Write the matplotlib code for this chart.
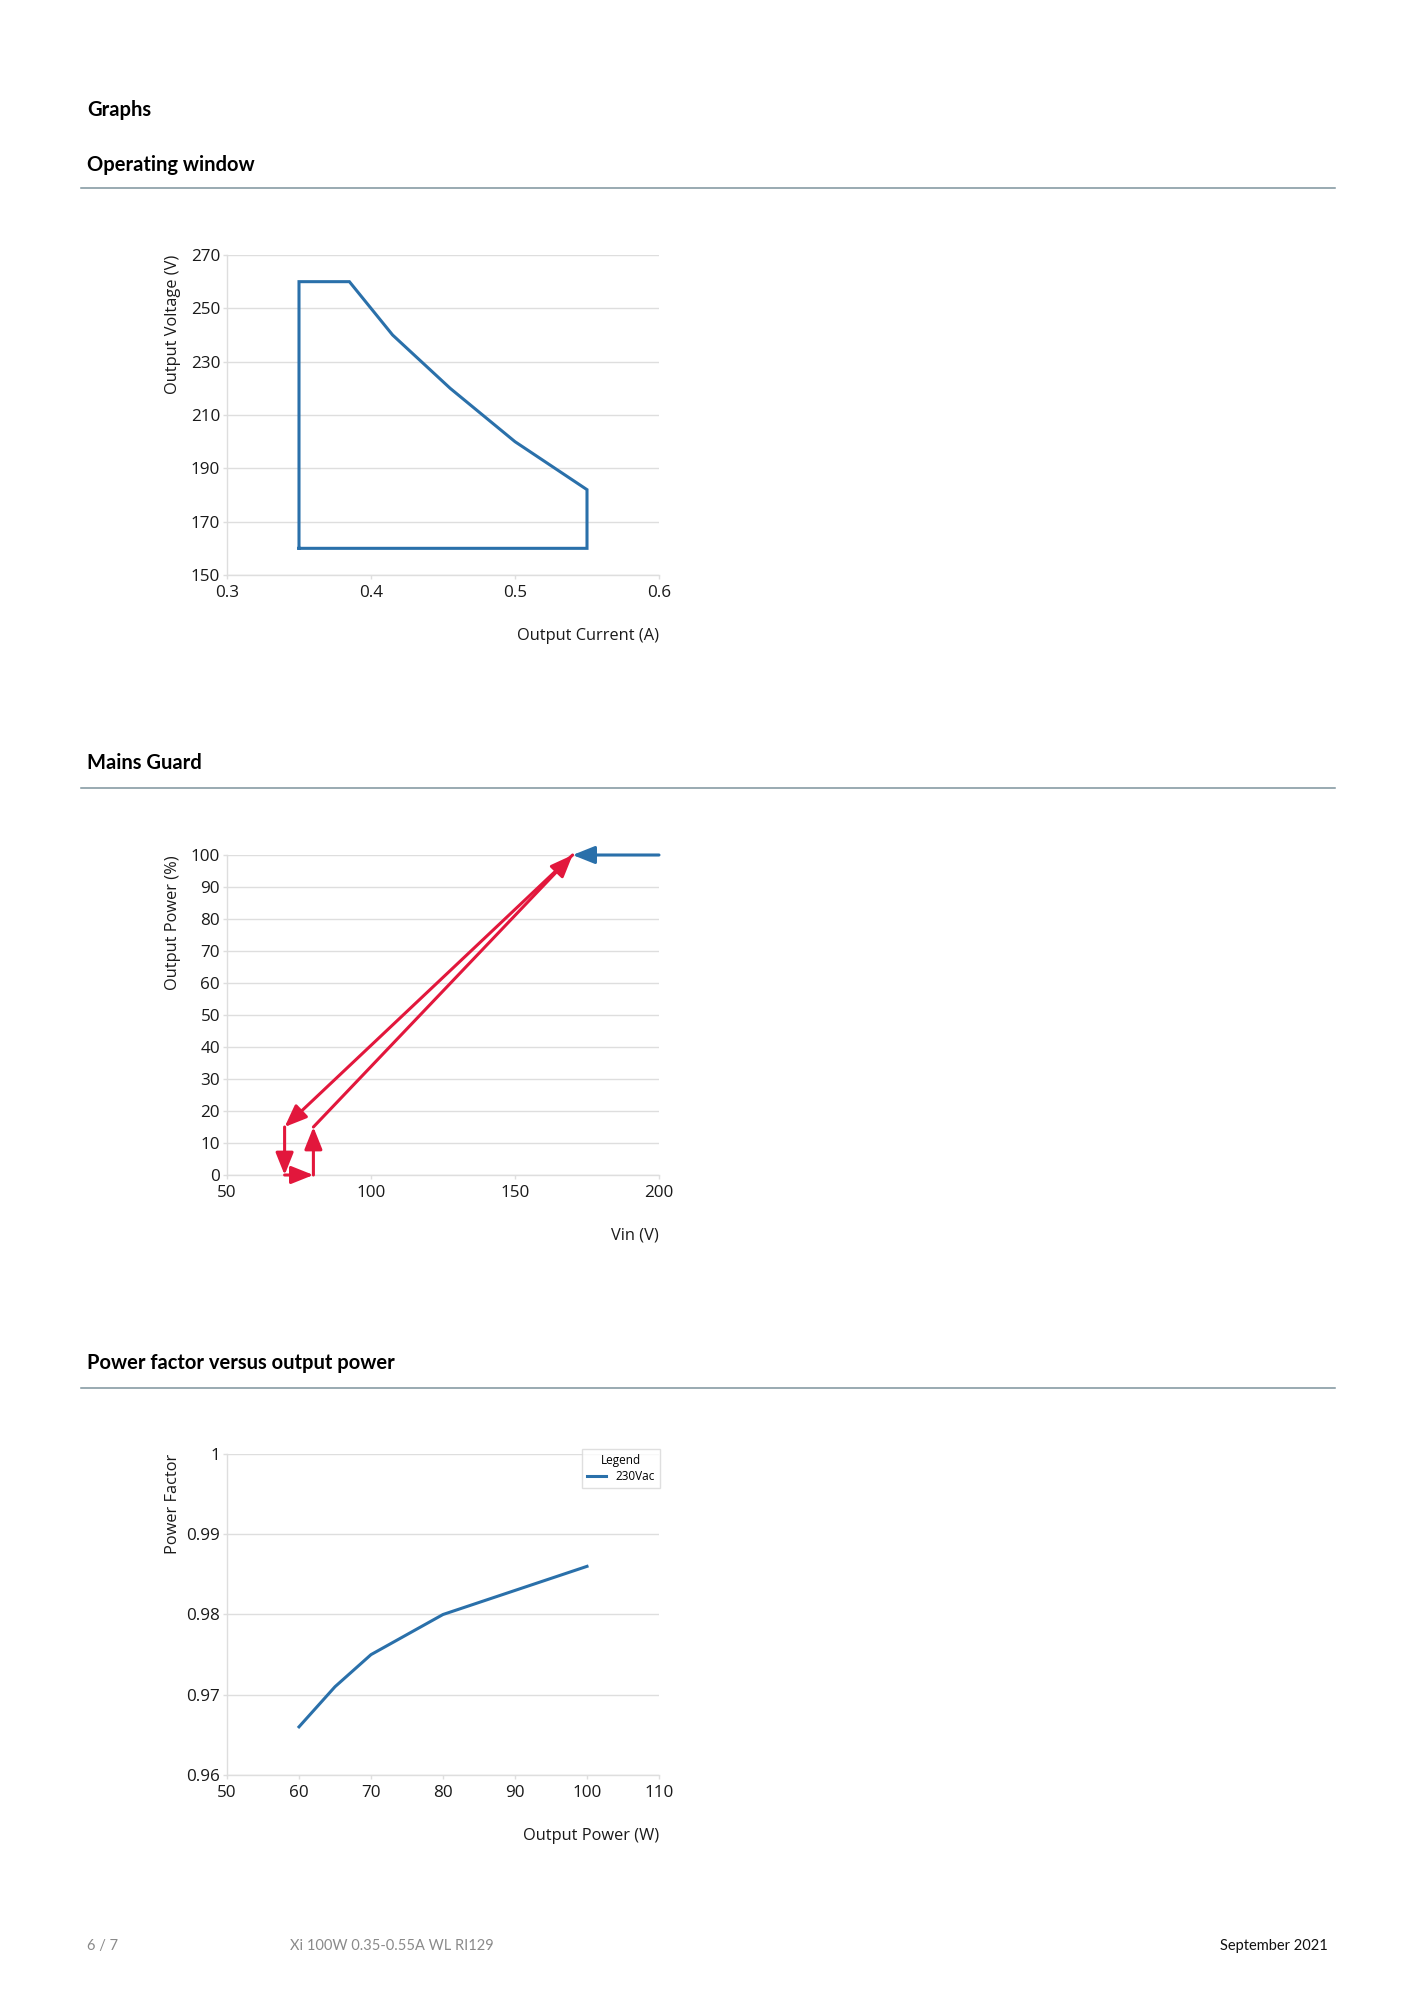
import matplotlib
matplotlib.use("Agg")
from matplotlib import pyplot as plt

plt.rcParams['font.family'] = ['Open Sans', 'DejaVu Sans']

# Operating window
ow_current = [0.35, 0.35, 0.385, 0.415, 0.455, 0.50, 0.55, 0.55, 0.35]
ow_voltage = [160, 260, 260, 240, 220, 200, 182, 160, 160]

# Mains guard
mg_blue_vin = [200, 170]
mg_blue_pct = [100, 100]
mg_red_vin = [170, 70, 70, 80, 80, 170]
mg_red_pct = [100, 15, 0, 0, 15, 100]

# Power factor
pf_power = [60, 65, 70, 80, 90, 100]
pf_value = [0.966, 0.971, 0.975, 0.980, 0.983, 0.986]

BLUE = '#2a70aa'
RED = '#e2173c'
GRID = '#dedede'

W, H = 1414, 2000
fig = plt.figure(figsize=(W / 100, H / 100), dpi=100)


def fx(px):
    return px / W


def fy(py):
    return 1 - py / H


def heading(text, y, line_y=None):
    fig.text(fx(87), fy(y), text, fontsize=14.5, fontweight='bold',
             family=['Lato', 'DejaVu Sans'], va='center', ha='left')
    if line_y is not None:
        fig.add_artist(plt.Line2D([fx(81), fx(1335)], [fy(line_y), fy(line_y)],
                                  color='#7d939c', lw=1.1))


def make_axes(top, bottom):
    left, right = 227, 659
    ax = fig.add_axes([fx(left), fy(bottom), fx(right - left), (bottom - top) / H])
    ax.grid(axis='y', color=GRID, lw=1)
    ax.set_axisbelow(True)
    for s in ['top', 'right']:
        ax.spines[s].set_visible(False)
    for s in ['left', 'bottom']:
        ax.spines[s].set_color(GRID)
        ax.spines[s].set_linewidth(1)
    ax.tick_params(axis='both', colors=GRID, labelcolor='#1a1a1a', labelsize=12.3,
                   length=3, width=1)
    ax.tick_params(axis='x', pad=4)
    ax.tick_params(axis='y', pad=2)
    return ax


def labels(ax, xlabel, ylabel):
    ax.text(1.0, -0.19, xlabel, transform=ax.transAxes, ha='right', va='center',
            fontsize=11.8, color='#1a1a1a')
    ax.text(-0.124, 1.0, ylabel, transform=ax.transAxes, ha='center', va='top',
            rotation=90, fontsize=11.8, color='#1a1a1a')


heading('Graphs', 110)
heading('Operating window', 165, 188)
heading('Mains Guard', 763, 788)
heading('Power factor versus output power', 1363, 1388)

# chart 1
ax1 = make_axes(255, 575)
ax1.plot(ow_current, ow_voltage, color=BLUE, lw=2.2, solid_joinstyle='miter')
ax1.set_xlim(0.3, 0.6)
ax1.set_ylim(150, 270)
ax1.set_xticks([0.3, 0.4, 0.5, 0.6])
ax1.set_xticklabels(['0.3', '0.4', '0.5', '0.6'])
ax1.set_yticks(range(150, 271, 20))
labels(ax1, 'Output Current (A)', 'Output Voltage (V)')

# chart 2
ax2 = make_axes(855, 1175)
ax2.set_xlim(50, 200)
ax2.set_ylim(0, 100)
ax2.set_xticks([50, 100, 150, 200])
ax2.set_yticks(range(0, 101, 10))
arrow = '-|>,head_length=0.9,head_width=0.36'
ax2.annotate('', xy=(mg_blue_vin[1], mg_blue_pct[1]), xytext=(mg_blue_vin[0], mg_blue_pct[0]),
             arrowprops=dict(arrowstyle=arrow, color=BLUE, lw=2.2, shrinkA=0, shrinkB=0,
                             mutation_scale=15))
for i in range(len(mg_red_vin) - 1):
    ax2.annotate('', xy=(mg_red_vin[i + 1], mg_red_pct[i + 1]),
                 xytext=(mg_red_vin[i], mg_red_pct[i]),
                 arrowprops=dict(arrowstyle=arrow, color=RED, lw=2.2, shrinkA=0, shrinkB=0,
                                 mutation_scale=15))
labels(ax2, 'Vin (V)', 'Output Power (%)')

# chart 3
ax3 = make_axes(1454, 1775)
ax3.plot(pf_power, pf_value, color=BLUE, lw=2.2, label='230Vac')
ax3.set_xlim(50, 110)
ax3.set_ylim(0.96, 1.0)
ax3.set_xticks(range(50, 111, 10))
ax3.set_yticks([0.96, 0.97, 0.98, 0.99, 1.0])
ax3.set_yticklabels(['0.96', '0.97', '0.98', '0.99', '1'])
leg = ax3.legend(title='Legend', loc='upper right', bbox_to_anchor=(1.017, 1.035),
                 fontsize=8.5, title_fontsize=8.5, frameon=True, fancybox=False,
                 handlelength=1.6, borderpad=0.45, labelspacing=0.25)
leg.get_frame().set_edgecolor('#d8d8d8')
leg.get_frame().set_linewidth(1)
labels(ax3, 'Output Power (W)', 'Power Factor')

# footer
foot = ['Lato', 'DejaVu Sans']
fig.text(fx(87), fy(1946), '6 / 7', fontsize=10.5, color='#8a8a8a', family=foot, va='center')
fig.text(fx(290), fy(1946), 'Xi 100W 0.35-0.55A WL RI129', fontsize=10.5, color='#8a8a8a',
         family=foot, va='center')
fig.text(fx(1328), fy(1946), 'September 2021', fontsize=10.5, color='#111111', family=foot,
         va='center', ha='right')

fig.savefig('out.png', dpi=100, facecolor='white')
